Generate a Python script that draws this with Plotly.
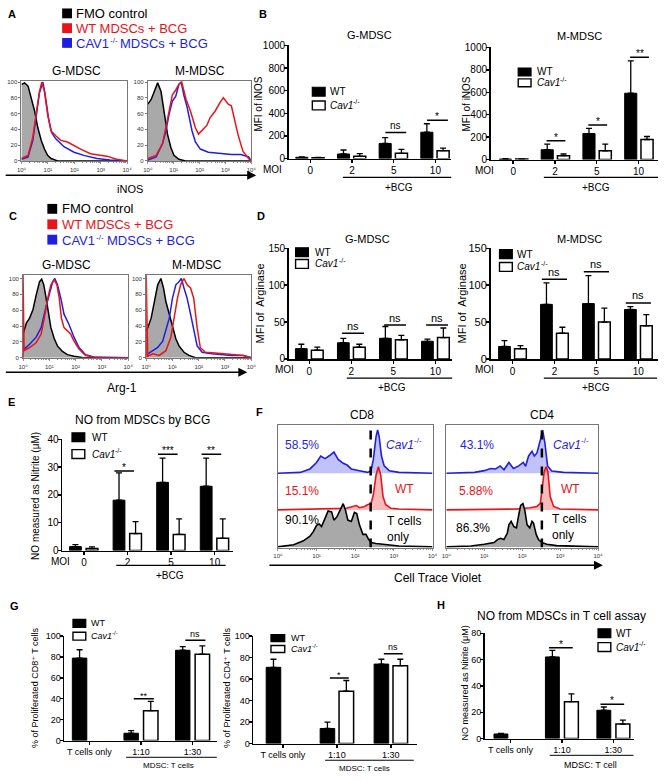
import numpy as np
import plotly.graph_objects as go

# ====================== DATA ======================
# ---- Panel A: iNOS flow histograms (x = log10 fluorescence, y = % of max)
A_G_fmo_x = [0.00, 0.12, 0.25, 0.37, 0.50, 0.62, 0.75, 0.87, 0.99, 1.12, 1.37, 4.00]
A_G_fmo_y = [97, 99, 95, 80, 63, 42, 26, 15, 7, 3, 0, 0]
A_G_wt_x = [0.00, 0.25, 0.43, 0.56, 0.68, 0.77, 0.87, 0.99, 1.12, 1.30, 1.49, 1.74, 1.99, 2.24, 2.61, 2.98, 3.23, 3.60, 4.00]
A_G_wt_y = [3, 7, 30, 63, 88, 100, 88, 59, 38, 32, 26, 24, 20, 15, 9, 7, 6, 2, 0]
A_G_cav_x = [0.00, 0.25, 0.43, 0.56, 0.68, 0.81, 0.89, 1.02, 1.14, 1.30, 1.61, 1.99, 2.36, 2.86, 3.35, 4.00]
A_G_cav_y = [2, 5, 26, 59, 86, 100, 86, 55, 36, 28, 18, 11, 7, 3, 1, 0]
A_M_fmo_x = [0.00, 0.13, 0.25, 0.38, 0.51, 0.63, 0.76, 0.89, 1.01, 1.20, 1.46, 4.00]
A_M_fmo_y = [72, 78, 88, 99, 88, 59, 34, 17, 7, 2, 0, 0]
A_M_wt_x = [0.00, 0.32, 0.57, 0.70, 0.82, 0.95, 1.08, 1.20, 1.31, 1.39, 1.48, 1.65, 1.84, 1.96, 2.09, 2.28, 2.41,
            2.60, 2.79, 2.92, 3.11, 3.23, 3.49, 3.68, 3.92, 4.00]
A_M_wt_y = [3, 7, 22, 42, 63, 84, 90, 97, 100, 90, 78, 63, 42, 34, 38, 45, 55, 63, 74, 80, 72, 70, 33, 12, 2, 0]
A_M_cav_x = [0.00, 0.32, 0.57, 0.70, 0.82, 0.95, 1.08, 1.20, 1.29, 1.39, 1.52, 1.71, 1.84, 2.03, 2.34, 2.72, 3.23,
             3.60, 3.90, 4.00]
A_M_cav_y = [1, 5, 22, 38, 59, 76, 82, 97, 100, 84, 68, 38, 24, 15, 11, 10, 8, 8, 5, 0]

# ---- Panel C: Arg-1 flow histograms
C_G_fmo_x = [0.00, 0.04, 0.13, 0.25, 0.38, 0.50, 0.63, 0.71, 0.79, 0.88, 0.98, 1.06, 1.19, 1.31, 1.50, 1.69, 1.94, 2.31, 4.00]
C_G_fmo_y = [30, 34, 44, 50, 61, 79, 96, 99, 92, 75, 55, 38, 24, 15, 8, 4, 2, 0, 0]
C_G_wt_x = [0.00, 0.00, 0.04, 0.25, 0.50, 0.69, 0.81, 0.94, 1.06, 1.19, 1.29, 1.38, 1.46, 1.56, 1.69, 1.81, 1.94, 2.13,
            2.38, 2.69, 3.06, 4.00]
C_G_wt_y = [0, 105, 9, 13, 19, 30, 50, 75, 92, 98, 92, 75, 50, 38, 34, 30, 21, 11, 3, 1, 0, 0]
C_G_cav_x = [0.04, 0.25, 0.50, 0.69, 0.88, 1.00, 1.13, 1.21, 1.31, 1.44, 1.56, 1.75, 1.94, 2.13, 2.38, 2.69, 4.00]
C_G_cav_y = [11, 17, 26, 38, 65, 79, 96, 100, 92, 75, 55, 42, 26, 13, 4, 1, 0]
C_M_fmo_x = [0.00, 0.06, 0.19, 0.31, 0.44, 0.56, 0.66, 0.75, 0.88, 1.00, 1.13, 1.25, 1.44, 1.63, 1.88, 4.00]
C_M_fmo_y = [34, 38, 50, 71, 92, 100, 88, 71, 55, 38, 24, 15, 7, 3, 0, 0]
C_M_wt_x = [0.00, 0.00, 0.06, 0.25, 0.50, 0.75, 0.94, 1.06, 1.19, 1.31, 1.44, 1.56, 1.69, 1.81, 1.94, 2.06, 2.25,
            2.63, 3.25, 3.70, 4.00]
C_M_wt_y = [0, 105, 2, 5, 3, 9, 26, 50, 75, 92, 100, 92, 88, 75, 38, 13, 7, 6, 4, 3, 0]
C_M_cav_x = [0.06, 0.25, 0.44, 0.63, 0.75, 0.88, 1.00, 1.13, 1.25, 1.34, 1.44, 1.56, 1.69, 1.81, 1.94, 2.13, 2.50,
             3.25, 3.70, 4.00]
C_M_cav_y = [5, 9, 13, 21, 34, 50, 75, 92, 96, 100, 88, 75, 55, 34, 15, 7, 5, 3, 3, 0]

# ---- Panel F: Cell Trace Violet histograms (x = log10, y = % of max)
F_CD8_t_x = [0.00, 0.41, 0.66, 0.83, 0.92, 1.00, 1.07, 1.13, 1.22, 1.30, 1.39, 1.45, 1.53, 1.60, 1.69, 1.75, 1.81,
             1.90, 1.98, 2.04, 2.11, 2.20, 2.28, 2.35, 2.41, 2.54, 2.79, 3.13, 4.00]
F_CD8_t_y = [0, 5, 14, 25, 36, 50, 53, 47, 66, 83, 81, 62, 70, 85, 100, 85, 62, 59, 80, 77, 51, 29, 29, 17, 10, 8, 5, 2, 0]
F_CD8_wt_x = [0.00, 1.26, 1.77, 1.94, 2.03, 2.11, 2.24, 2.32, 2.41, 2.47, 2.54, 2.60, 2.66, 2.72, 2.79, 2.92, 3.13, 4.00]
F_CD8_wt_y = [0, 2, 4, 8, 10, 5, 8, 12, 15, 35, 81, 100, 81, 31, 12, 4, 2, 0]
F_CD8_cav_x = [0.00, 0.58, 0.83, 1.00, 1.11, 1.22, 1.34, 1.45, 1.56, 1.69, 1.79, 1.90, 2.11, 2.32, 2.41, 2.47, 2.54,
               2.58, 2.62, 2.68, 2.75, 2.88, 3.13, 4.00]
F_CD8_cav_y = [0, 2, 10, 25, 40, 34, 41, 49, 32, 23, 19, 10, 6, 2, 6, 32, 85, 100, 85, 40, 17, 6, 2, 0]
F_CD4_t_x = [0.00, 0.65, 1.00, 1.26, 1.35, 1.43, 1.52, 1.61, 1.65, 1.71, 1.78, 1.85, 1.91, 1.96, 2.02, 2.07, 2.13,
             2.20, 2.26, 2.30, 2.37, 2.43, 2.52, 2.65, 2.91, 4.00]
F_CD4_t_y = [0, 2, 6, 10, 17, 20, 17, 32, 51, 59, 47, 44, 74, 96, 100, 85, 51, 44, 59, 55, 29, 17, 10, 6, 3, 0]
F_CD4_wt_x = [0.00, 1.87, 2.22, 2.39, 2.48, 2.52, 2.58, 2.63, 2.68, 2.74, 2.83, 3.00, 4.00]
F_CD4_wt_y = [0, 2, 5, 8, 15, 50, 88, 100, 88, 31, 8, 2, 0]
F_CD4_cav_x = [0.00, 0.74, 1.00, 1.17, 1.30, 1.42, 1.52, 1.65, 1.77, 1.91, 2.03, 2.09, 2.17, 2.26, 2.32, 2.39, 2.48,
               2.54, 2.60, 2.67, 2.78, 3.09, 4.00]
F_CD4_cav_y = [0, 2, 6, 11, 10, 17, 8, 25, 11, 17, 25, 16, 40, 51, 40, 47, 77, 100, 70, 17, 5, 2, 0]
F_gate_CD8 = 2.40
F_gate_CD4 = 2.52
F_pct_CD8 = ["58.5%", "15.1%", "90.1%"]
F_pct_CD4 = ["43.1%", "5.88%", "86.3%"]
DECADE_LABELS = ["10⁰", "10¹", "10²", "10³", "10⁴"]

# ---- Bar panels
MOI = ["0", "2", "5", "10"]
B_G_wt = [12, 41, 134, 233];   B_G_wt_err = [4, 35, 52, 75]
B_G_cav = [8, 20, 47, 70];     B_G_cav_err = [3, 24, 34, 23]
B_M_wt = [5, 88, 232, 591];    B_M_wt_err = [3, 50, 47, 288]
B_M_cav = [5, 35, 79, 179];    B_M_cav_err = [2, 15, 59, 27]
B_G_sig = [(2, 230, "ns"), (3, 340, "*")]
B_M_sig = [(1, 168, "*"), (2, 309, "*"), (3, 912, "**")]

D_G_wt = [14, 22, 28, 24];     D_G_wt_err = [6, 6, 16, 3]
D_G_cav = [12, 16, 26, 29];    D_G_cav_err = [4, 4, 6, 13]
D_M_wt = [17, 74, 75, 67];     D_M_wt_err = [8, 29, 38, 4]
D_M_cav = [14, 35, 50, 45];    D_M_cav_err = [4, 8, 19, 15]
D_G_sig = [(1, 35, "ns"), (2, 46, "ns"), (3, 46, "ns")]
D_M_sig = [(1, 108, "ns"), (2, 118, "ns"), (3, 76, "ns")]

E_wt = [1.4, 18.1, 24.5, 23.1];  E_wt_err = [0.7, 9.8, 8.7, 10.1]
E_cav = [0.7, 6.1, 5.8, 4.4];    E_cav_err = [0.6, 4.3, 5.6, 7.0]
E_sig = [(1, 28.6, "*"), (2, 34.6, "***"), (3, 34.6, "**")]

TCELL = ["T cells only", "1:10", "1:30"]
G8_wt = [79, 7, 86.5];      G8_wt_err = [8, 2.5, 3.5]
G8_cav = [None, 28.6, 82.7]; G8_cav_err = [0, 9, 8]
G8_sig = [(1, 40, "**"), (2, 96, "ns")]
G4_wt = [71, 14, 74];       G4_wt_err = [7.5, 6, 4.5]
G4_cav = [None, 48.7, 72.5]; G4_cav_err = [0, 10, 6]
G4_sig = [(1, 61, "*"), (2, 83.7, "ns")]

H_wt = [3.5, 62, 21.5];     H_wt_err = [0.5, 5, 2.5]
H_cav = [None, 28, 11];     H_cav_err = [0, 6, 3]
H_sig = [(1, 69, "*"), (2, 26, "*")]

# ====================== LAYOUT HELPERS ======================
W, H = 669, 782
FONT = "Liberation Sans, Arial, DejaVu Sans, sans-serif"
BOX = "#777777"
RED = "#e8141b"
BLUE = "#1f1fe0"
# Arial/Liberation Sans advance widths (em) used to place superscripts
EM = {"Cav1": 2.334, "CAV1": 2.612, "-/-": 0.944, "MDSCs + BCG": 6.751, " ": 0.278}

def X(px): return px / W
def Y(py): return 1 - py / H

def axn(n): return ("xaxis", "yaxis") if n == 1 else (f"xaxis{n}", f"yaxis{n}")
def ref(n): return ("x", "y") if n == 1 else (f"x{n}", f"y{n}")

fig = go.Figure()
L = dict(width=W, height=H, margin=dict(l=0, r=0, t=0, b=0), paper_bgcolor="white",
         plot_bgcolor="rgba(0,0,0,0)", showlegend=False, barmode="overlay",
         font=dict(family=FONT, color="black", size=10))
ann, shapes = [], []

def text(px, py, s, size=11, color="black", xanchor="center", yanchor="middle", angle=0, align="center"):
    ann.append(dict(x=X(px), y=Y(py), xref="paper", yref="paper", text=s, showarrow=False,
                    font=dict(size=size, color=color, family=FONT), xanchor=xanchor, yanchor=yanchor,
                    textangle=angle, align=align, borderpad=0, borderwidth=0))

def sup_text(px, py, base, rest="", size=10, color="black", italic=False, center=False, raise_=0.36, ss=None):
    ss = ss or int(round(size * 0.7))
    wb = EM[base] * size
    ws = EM["-/-"] * ss
    wr = (EM[rest] + EM[" "]) * size if rest else 0
    x0 = px - (wb + ws + wr) / 2 if center else px
    text(x0, py, f"<i>{base}</i>" if italic else base, size, color, xanchor="left")
    text(x0 + wb + 0.3, py - raise_ * size, "-/-", ss, color, xanchor="left")
    if rest:
        text(x0 + wb + ws + EM[" "] * size, py, rest, size, color, xanchor="left")

def pline(x0, x1, y, width=1.2, color="black"):
    shapes.append(dict(type="line", xref="paper", yref="paper", x0=X(x0), x1=X(x1), y0=Y(y), y1=Y(y),
                       line=dict(color=color, width=width)))

def prect(x0, x1, yc, h, fill, lw=1.2):
    shapes.append(dict(type="rect", xref="paper", yref="paper", x0=X(x0), x1=X(x1), y0=Y(yc + h / 2),
                       y1=Y(yc - h / 2), fillcolor=fill, line=dict(color="black", width=lw)))

def arrow(x0, x1, y):
    ann.append(dict(x=X(x1), y=Y(y), xref="paper", yref="paper", ax=-(x1 - x0), ay=0, axref="pixel",
                    ayref="pixel", text="", showarrow=True, arrowhead=2, arrowsize=1.2, arrowwidth=1.5,
                    arrowcolor="black", standoff=0, font=dict(size=10)))

MINOR = [d + np.log10(k) for d in range(4) for k in range(2, 10)]

def hist_axes(n, x0, x1, ytop, ybot, yr, yticks=True):
    xa, ya = axn(n); xr_, yr_ = ref(n)
    L[xa] = dict(domain=[X(x0), X(x1)], range=[0, 4], anchor=yr_, showline=True, mirror=True, linecolor=BOX,
                 linewidth=1, ticks="outside", ticklen=2.5, tickwidth=0.8, tickcolor=BOX, tickmode="array",
                 tickvals=[0, 1, 2, 3, 4], ticktext=DECADE_LABELS,
                 tickfont=dict(size=6, color="#333"),
                 minor=dict(ticks="outside", ticklen=1.5, tickcolor=BOX, tickmode="array", tickvals=MINOR),
                 showgrid=False, zeroline=False)
    L[ya] = dict(domain=[Y(ybot), Y(ytop)], range=yr, anchor=xr_, showline=True, mirror=True, linecolor=BOX,
                 linewidth=1, ticks="outside" if yticks else "", ticklen=2, tickcolor=BOX, tickmode="array",
                 tickvals=[0, 20, 40, 60, 80, 100] if yticks else [], showticklabels=yticks,
                 tickfont=dict(size=6, color="#333"), showgrid=False, zeroline=False)

def bar_axes(n, x0, x1, ytop, ybot, xr, yr, yt, cats, xfs=10, yfs=10):
    xa, ya = axn(n); xr_, yr_ = ref(n)
    L[xa] = dict(domain=[X(x0), X(x1)], range=xr, anchor=yr_, showline=True, linecolor="black", linewidth=1.6,
                 ticks="outside", ticklen=3, tickwidth=1.4, tickcolor="black", tickmode="array",
                 tickvals=list(range(len(cats))), ticktext=cats, tickfont=dict(size=xfs), showgrid=False,
                 zeroline=False, ticklabelstandoff=-1)
    L[ya] = dict(domain=[Y(ybot), Y(ytop)], range=yr, anchor=xr_, showline=True, linecolor="black",
                 linewidth=1.6, ticks="outside", ticklen=3, tickwidth=1.4, tickcolor="black", tickmode="array",
                 tickvals=yt, tickfont=dict(size=yfs), showgrid=False, zeroline=False, ticklabelstandoff=-3)

def hline(n, xs, ys, color, fill=None, fillcolor=None, width=1.5):
    xr_, yr_ = ref(n)
    fig.add_trace(go.Scatter(x=xs, y=ys, mode="lines", line=dict(color=color, width=width), fill=fill,
                             fillcolor=fillcolor, xaxis=xr_, yaxis=yr_, hoverinfo="skip"))

def bars(n, wt, wte, cav, cave, off_w, off_c, width):
    xr_, yr_ = ref(n)
    idx = list(range(len(wt)))
    fig.add_trace(go.Bar(x=idx, y=wt, offset=off_w, width=width, name="WT",
                         marker=dict(color="black", line=dict(color="black", width=1)),
                         error_y=dict(type="data", symmetric=False, array=wte, arrayminus=[0] * len(wt),
                                      color="black", thickness=1.3, width=3),
                         xaxis=xr_, yaxis=yr_))
    fig.add_trace(go.Bar(x=idx, y=cav, offset=off_c, width=width, name="Cav1-/-",
                         marker=dict(color="white", line=dict(color="black", width=1.5)),
                         error_y=dict(type="data", symmetric=False, array=cave, arrayminus=[0] * len(cav),
                                      color="black", thickness=1.3, width=3),
                         xaxis=xr_, yaxis=yr_))

def sig(n, items, dx0, dx1, size=10):
    xr_, yr_ = ref(n)
    for i, val, lab in items:
        shapes.append(dict(type="line", xref=xr_, yref=yr_, x0=i + dx0, x1=i + dx1, y0=val, y1=val,
                           line=dict(color="black", width=1.5)))
        ann.append(dict(xref=xr_, yref=yr_, x=i + (dx0 + dx1) / 2, y=val, text=lab, showarrow=False,
                        yanchor="bottom", font=dict(size=size, family=FONT, color="black"),
                        yshift=-2 if "*" in lab else 1.5, borderpad=0, borderwidth=0))

def bar_legend(xsq, ys, textx, size=10, sqw=13, sqh=9):
    prect(xsq, xsq + sqw, ys[0], sqh, "black")
    prect(xsq, xsq + sqw, ys[1], sqh, "white", lw=1.4)
    text(textx, ys[0], "WT", size, xanchor="left")
    sup_text(textx, ys[1], "Cav1", size=size, italic=True)

def flow_legend(xsq, ys, textx, size=13):
    cols = ["black", RED, BLUE]
    for yc, c in zip(ys, cols):
        shapes.append(dict(type="rect", xref="paper", yref="paper", x0=X(xsq), x1=X(xsq + 10),
                           y0=Y(yc + 5), y1=Y(yc - 5), fillcolor=c, line=dict(width=0)))
    text(textx, ys[0], "FMO control", size, color=cols[0], xanchor="left")
    text(textx, ys[1], "WT MDSCs + BCG", size, color=cols[1], xanchor="left")
    sup_text(textx, ys[2] + 0.8, "CAV1", "MDSCs + BCG", size=size, color=cols[2], raise_=0.25, ss=8)

# ====================== PANEL A ======================
text(7, 8, "<b>A</b>", 11)
flow_legend(58, [7.5, 22.5, 37.5], 72)
hist_axes(1, 16.7, 124, 76, 157.3, [0, 101.6])
hist_axes(2, 145, 250, 76, 157.3, [0, 101.6])
hline(1, A_G_fmo_x, A_G_fmo_y, "black", "tozeroy", "#a9a9a9")
hline(1, A_G_cav_x, A_G_cav_y, BLUE)
hline(1, A_G_wt_x, A_G_wt_y, RED)
hline(2, A_M_fmo_x, A_M_fmo_y, "black", "tozeroy", "#a9a9a9")
hline(2, A_M_cav_x, A_M_cav_y, BLUE)
hline(2, A_M_wt_x, A_M_wt_y, RED)
text(73, 66, "G-MDSC", 12)
text(198, 66, "M-MDSC", 12)
arrow(3, 255, 172)
text(127, 186, "iNOS", 11)

# ====================== PANEL C ======================
text(8, 213, "<b>C</b>", 11)
flow_legend(43, [206, 221.7, 237.3], 58)
hist_axes(3, 18.3, 125, 272.7, 357.3, [0, 105])
hist_axes(4, 143.3, 250, 272.7, 357.3, [0, 105])
hline(3, C_G_fmo_x, C_G_fmo_y, "black", "tozeroy", "#a9a9a9")
hline(3, C_G_cav_x, C_G_cav_y, BLUE)
hline(3, C_G_wt_x, C_G_wt_y, RED)
hline(4, C_M_fmo_x, C_M_fmo_y, "black", "tozeroy", "#a9a9a9")
hline(4, C_M_cav_x, C_M_cav_y, BLUE)
hline(4, C_M_wt_x, C_M_wt_y, RED)
text(62, 263, "G-MDSC", 12)
text(195, 263, "M-MDSC", 12)
arrow(3, 246, 372)
text(119, 388, "Arg-1", 12)

# ====================== PANEL B ======================
text(262, 8, "<b>B</b>", 11)
bar_axes(5, 288, 453, 40, 155, [-0.52, 3.38], [0, 1000], [0, 200, 400, 600, 800, 1000], MOI)
bar_axes(6, 493, 663, 42, 156, [-0.54, 3.47], [0, 1000], [0, 200, 400, 600, 800, 1000], MOI)
bars(5, B_G_wt, B_G_wt_err, B_G_cav, B_G_cav_err, -0.35, 0.04, 0.29)
bars(6, B_M_wt, B_M_wt_err, B_M_cav, B_M_cav_err, -0.33, 0.06, 0.29)
sig(5, B_G_sig, -0.2, 0.3)
sig(6, B_M_sig, -0.2, 0.25)
text(370, 29, "G-MDSC", 11)
text(583, 30, "M-MDSC", 11)
text(257, 100, "MFI of iNOS", 10, angle=-90)
text(468, 100, "MFI of iNOS", 10, angle=-90)
text(272, 166, "MOI", 10)
text(487, 167, "MOI", 10)
pline(343, 453, 174)
pline(547, 663, 174)
text(400, 184, "+BCG", 10)
text(600, 184, "+BCG", 10)
bar_legend(312, [87, 101], 330)
bar_legend(521, [67, 78], 540, sqh=8)

# ====================== PANEL D ======================
text(260, 213, "<b>D</b>", 11)
bar_axes(7, 288, 454, 246, 358.5, [-0.49, 3.4], [0, 150], [0, 50, 100, 150], MOI)
bar_axes(8, 493, 663, 246, 358.5, [-0.52, 3.47], [0, 150], [0, 50, 100, 150], MOI, yfs=11)
bars(7, D_G_wt, D_G_wt_err, D_G_cav, D_G_cav_err, -0.33, 0.05, 0.28)
bars(8, D_M_wt, D_M_wt_err, D_M_cav, D_M_cav_err, -0.33, 0.05, 0.28)
sig(7, D_G_sig, -0.22, 0.3, size=11)
sig(8, D_M_sig, -0.3, 0.3, size=11)
text(368, 237, "G-MDSC", 11)
text(583, 237, "M-MDSC", 11)
text(259, 302, "MFI of  Arginase", 11, angle=-90)
text(464, 302, "MFI of  Arginase", 11, angle=-90)
text(284, 369, "MOI", 10)
text(487, 369, "MOI", 10)
pline(347, 454, 378)
pline(547, 662, 378)
text(393, 387, "+BCG", 10)
text(600, 387, "+BCG", 10)
bar_legend(295, [250, 262], 315)
bar_legend(502, [252, 265], 520)

# ====================== PANEL E ======================
text(7, 402, "<b>E</b>", 11)
bar_axes(9, 58, 231, 440, 553, [-0.5, 3.41], [0, 40], [0, 10, 20, 30, 40], MOI)
bars(9, E_wt, E_wt_err, E_cav, E_cav_err, -0.33, 0.05, 0.27)
sig(9, E_sig, -0.3, 0.15)
text(140, 420, "NO from MDSCs by BCG", 12)
text(31, 498, "NO measured as Nitrite (μM)", 10, angle=-90)
text(56, 564, "MOI", 10)
pline(113, 224, 568)
text(167, 578, "+BCG", 10)
bar_legend(68, [438, 455], 88)

# ====================== PANEL F ======================
text(258, 412, "<b>F</b>", 11)
SC = 1.32
BASES = [227, 115, 2]

def fhist(n, xs, ys, base, color, fillc):
    px = [xs[0]] + list(xs) + [xs[-1]]
    py = [base] + [base + v * SC for v in ys] + [base]
    hline(n, px, py, color, "toself", fillc, width=1.6)

for n, (x0, x1) in [(10, (277, 434)), (11, (448, 602))]:
    hist_axes(n, x0, x1, 426, 550, [0, 373], yticks=False)

fhist(10, F_CD8_cav_x, F_CD8_cav_y, BASES[0], BLUE, "rgba(120,120,245,0.45)")
fhist(10, F_CD8_wt_x, F_CD8_wt_y, BASES[1], RED, "rgba(240,120,120,0.5)")
fhist(10, F_CD8_t_x, F_CD8_t_y, BASES[2], "black", "#a9a9a9")
fhist(11, F_CD4_cav_x, F_CD4_cav_y, BASES[0], BLUE, "rgba(120,120,245,0.45)")
fhist(11, F_CD4_wt_x, F_CD4_wt_y, BASES[1], RED, "rgba(240,120,120,0.5)")
fhist(11, F_CD4_t_x, F_CD4_t_y, BASES[2], "black", "#a9a9a9")
for n, g in [(10, F_gate_CD8), (11, F_gate_CD4)]:
    xr_, yr_ = ref(n)
    shapes.append(dict(type="line", xref=xr_, yref=yr_, x0=g, x1=g, y0=0, y1=373,
                       line=dict(color="black", width=2.5, dash="dash")))
text(362, 415, "CD8", 12)
text(545, 415, "CD4", 12)
text(302, 446, F_pct_CD8[0], 12, color=BLUE)
text(302, 493, F_pct_CD8[1], 12, color=RED)
text(302, 522, F_pct_CD8[2], 12)
text(479, 446, F_pct_CD4[0], 12, color=BLUE)
text(478, 493, F_pct_CD4[1], 12, color=RED)
text(475, 530, F_pct_CD4[2], 12)
sup_text(405, 446, "Cav1", size=12, color=BLUE, italic=True, center=True)
text(406, 491, "WT", 12, color=RED)
sup_text(574, 446, "Cav1", size=12, color=BLUE, italic=True, center=True)
text(574, 491, "WT", 12, color=RED)
text(388, 531, "T cells<br>only", 12, xanchor="left", align="left")
text(555, 529, "T cells<br>only", 12, xanchor="left", align="left")
arrow(272, 607, 568)
text(440, 581, "Cell Trace Violet", 12)

# ====================== PANEL G ======================
text(10, 609, "<b>G</b>", 11)
bar_axes(12, 60, 215, 640, 746, [-0.49, 2.47], [0, 100], [0, 20, 40, 60, 80, 100], TCELL, xfs=9, yfs=9)
bar_axes(13, 252, 418, 640, 749, [-0.55, 2.48], [0, 100], [0, 20, 40, 60, 80, 100], TCELL, xfs=9, yfs=9)
bars(12, G8_wt, G8_wt_err, G8_cav, G8_cav_err, -0.33, 0.05, 0.28)
bars(13, G4_wt, G4_wt_err, G4_cav, G4_cav_err, -0.31, 0.04, 0.27)
sig(12, G8_sig, -0.14, 0.25, size=9)
sig(13, G4_sig, -0.13, 0.22, size=9)
text(31, 693, "% of Proliferated CD8⁺ T cells", 9, angle=-90)
text(226, 693, "% of Proliferated CD4⁺ T cells", 9, angle=-90)
bar_legend(69, [627, 640], 87, size=9, sqw=13, sqh=8)
bar_legend(270, [642, 653], 290, size=9, sqw=14, sqh=7)
pline(123, 215, 763, width=1)
text(166, 771, "MDSC: T cells", 8)
pline(325, 415, 766, width=1)
text(365, 774, "MDSC: T cells", 8)

# ====================== PANEL H ======================
text(443, 608, "<b>H</b>", 11)
bar_axes(14, 487, 639, 637, 744, [-0.5, 2.41], [0, 80], [0, 20, 40, 60, 80], TCELL, xfs=9, yfs=9)
bars(14, H_wt, H_wt_err, H_cav, H_cav_err, -0.32, 0.05, 0.27)
sig(14, H_sig, -0.25, 0.21)
text(565, 620, "NO from MDSCs in T cell assay", 12)
text(467, 688, "NO measured as Nitrite (μM)", 9, angle=-90)
bar_legend(602, [637, 651], 620, size=10, sqw=13, sqh=9)
pline(553, 638, 761, width=1)
text(594, 771, "MDSC: T cell", 9)

L["annotations"] = ann
L["shapes"] = shapes
fig.update_layout(**L)
fig.write_html("out.html", config={"displayModeBar": False, "staticPlot": True},
               post_script="document.body.style.margin='0';document.body.style.overflow='hidden';")
